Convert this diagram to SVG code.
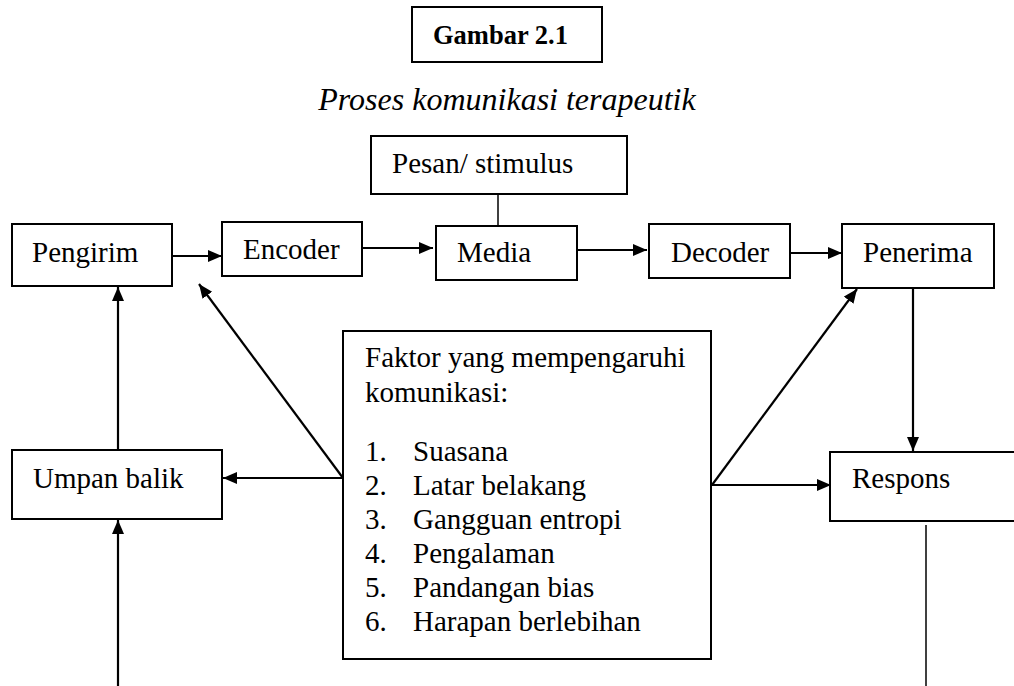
<svg xmlns="http://www.w3.org/2000/svg" width="1014" height="686" viewBox="0 0 1014 686">
<style>
.box{fill:#fff;stroke:#000;stroke-width:2}
text{font-family:'Liberation Serif',serif;font-size:29px;fill:#000}
.b{font-weight:bold;font-size:26.5px}
.i{font-style:italic;font-size:32px}
.c{stroke:#000;stroke-width:2.2;fill:none}
.thin{stroke:#000;stroke-width:1.5;fill:none}
</style>
<defs>
<marker id="ah" markerUnits="userSpaceOnUse" markerWidth="16" markerHeight="14" refX="14" refY="6" orient="auto">
<path d="M0,0 L14,6 L0,12 Z" fill="#000"/>
</marker>
</defs>
<rect width="1014" height="686" fill="#fff"/>
<g id="title-box"><rect class="box" x="412" y="7" width="190" height="55"/><text class="b" x="433" y="44">Gambar 2.1</text></g>
<g id="title"><text class="i" x="507" y="110" text-anchor="middle">Proses komunikasi terapeutik</text></g>
<g id="connectors">
<line class="thin" x1="498" y1="194" x2="498" y2="226"/>
<line class="c" x1="172" y1="256" x2="222" y2="256" marker-end="url(#ah)"/>
<line class="c" x1="362" y1="248" x2="433" y2="248" marker-end="url(#ah)"/>
<line class="c" x1="577" y1="250" x2="647" y2="250" marker-end="url(#ah)"/>
<line class="c" x1="790" y1="253" x2="842" y2="253" marker-end="url(#ah)"/>
<line class="c" x1="913" y1="288" x2="913" y2="451" marker-end="url(#ah)"/>
<line class="c" x1="712" y1="485" x2="831" y2="485" marker-end="url(#ah)"/>
<line class="c" x1="712" y1="485" x2="857" y2="289" marker-end="url(#ah)"/>
<line class="c" x1="343" y1="478" x2="223" y2="478" marker-end="url(#ah)"/>
<line class="c" x1="343" y1="478" x2="199" y2="284" marker-end="url(#ah)"/>
<line class="c" x1="118" y1="450" x2="118" y2="287" marker-end="url(#ah)"/>
<line class="c" x1="118" y1="686" x2="118" y2="520" marker-end="url(#ah)"/>
<line class="thin" x1="926" y1="525" x2="926" y2="686"/>
</g>
<g id="pesan"><rect class="box" x="371" y="136" width="256" height="58"/><text x="392" y="173">Pesan/ stimulus</text></g>
<g id="pengirim"><rect class="box" x="12" y="224" width="160" height="62"/><text x="32" y="262">Pengirim</text></g>
<g id="encoder"><rect class="box" x="222" y="222" width="140" height="54"/><text x="243" y="259">Encoder</text></g>
<g id="media"><rect class="box" x="436" y="226" width="141" height="54"/><text x="457" y="262">Media</text></g>
<g id="decoder"><rect class="box" x="649" y="224" width="141" height="54"/><text x="671" y="262">Decoder</text></g>
<g id="penerima"><rect class="box" x="842" y="224" width="152" height="64"/><text x="863" y="262">Penerima</text></g>
<g id="umpan-balik"><rect class="box" x="12" y="450" width="210" height="69"/><text x="33" y="488">Umpan balik</text></g>
<g id="respons"><rect class="box" x="830" y="452" width="200" height="69"/><text x="852" y="488">Respons</text></g>
<g id="faktor"><rect class="box" x="343" y="331" width="368" height="328"/>
<text x="365" y="367">Faktor yang mempengaruhi</text>
<text x="365" y="402">komunikasi:</text>
<text x="365" y="461">1.</text><text x="413" y="461">Suasana</text>
<text x="365" y="495">2.</text><text x="413" y="495">Latar belakang</text>
<text x="365" y="529">3.</text><text x="413" y="529">Gangguan entropi</text>
<text x="365" y="563">4.</text><text x="413" y="563">Pengalaman</text>
<text x="365" y="597">5.</text><text x="413" y="597">Pandangan bias</text>
<text x="365" y="631">6.</text><text x="413" y="631">Harapan berlebihan</text>
</g>
</svg>
